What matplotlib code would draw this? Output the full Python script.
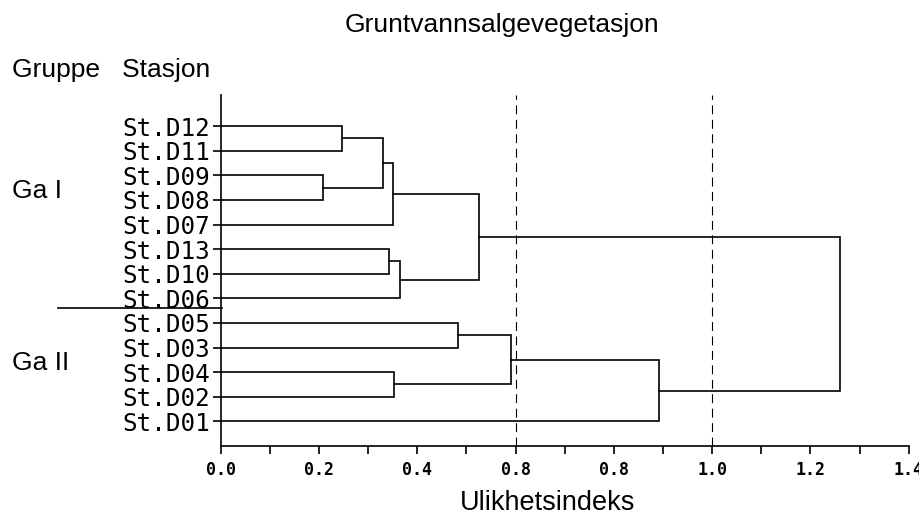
"""Dendrogram: Gruntvannsalgevegetasjon, stations grouped into Ga I / Ga II."""

import matplotlib
matplotlib.use("Agg")
import matplotlib.pyplot as plt
import numpy as np


# leaves, top to bottom
LEAVES = ["St.D12", "St.D11", "St.D09", "St.D08", "St.D07", "St.D13",
          "St.D10", "St.D06", "St.D05", "St.D03", "St.D04", "St.D02",
          "St.D01"]

# merges: (left node, right node, dissimilarity); nodes are leaf names or
# indices into this list (as "m<i>")
MERGES = [
    ("St.D12", "St.D11", 0.247),   # m0
    ("St.D09", "St.D08", 0.209),   # m1
    ("m0", "m1", 0.330),           # m2
    ("m2", "St.D07", 0.350),       # m3
    ("St.D13", "St.D10", 0.343),   # m4
    ("m4", "St.D06", 0.365),       # m5
    ("m3", "m5", 0.526),           # m6
    ("St.D05", "St.D03", 0.482),   # m7
    ("St.D04", "St.D02", 0.353),   # m8
    ("m7", "m8", 0.591),           # m9
    ("m9", "St.D01", 0.892),       # m10
    ("m6", "m10", 1.260),          # m11
]

CUT_LEVELS = [0.6, 1.0]
XTICKS = [0.0, 0.2, 0.4, 0.6, 0.8, 1.0, 1.2, 1.4]
XTICK_LABELS = ["0.0", "0.2", "0.4", "0.8", "0.8", "1.0", "1.2", "1.4"]

MONO = "DejaVu Sans Mono"
SANS = "Liberation Sans"


def main():
    fig = plt.figure(figsize=(9.19, 5.21), dpi=100)
    ax = fig.add_axes([0.2402, 0.1440, 0.7486, 0.674])

    pos = {name: (0.0, i) for i, name in enumerate(LEAVES)}
    for i, (a, b, h) in enumerate(MERGES):
        xa, ya = pos[a]
        xb, yb = pos[b]
        ax.plot([xa, h, h, xb], [ya, ya, yb, yb], color="black", lw=1.2,
                solid_joinstyle="miter")
        pos[f"m{i}"] = (h, (ya + yb) / 2)

    for c in CUT_LEVELS:
        ax.axvline(c, color="black", lw=0.8, ls=(0, (8, 5)))

    ax.set_xlim(0, 1.4)
    ax.set_ylim(13.0, -1.27)
    ax.set_xticks(XTICKS)
    ax.set_xticklabels(XTICK_LABELS, fontfamily=MONO, fontsize=12,
                       fontweight="bold")
    ax.set_xticks(np.arange(0.1, 1.4, 0.2), minor=True)
    ax.set_yticks(range(len(LEAVES)))
    ax.set_yticklabels(LEAVES, fontfamily=MONO, fontsize=17.5)
    ax.tick_params(axis="x", which="both", direction="out", length=6,
                   width=1.2, pad=5)
    ax.tick_params(axis="y", direction="out", length=6, width=1.2, pad=2)
    for side in ("top", "right"):
        ax.spines[side].set_visible(False)
    for side in ("left", "bottom"):
        ax.spines[side].set_linewidth(1.2)

    # group separator line
    fig.add_artist(plt.Line2D([58 / 919, 222 / 919],
                              [1 - 308 / 521, 1 - 308 / 521],
                              color="black", lw=1.2))

    fig.text(502 / 919, 1 - 25 / 521, "Gruntvannsalgevegetasjon",
             fontfamily=SANS, fontsize=19, ha="center", va="center")
    fig.text(12 / 919, 1 - 70 / 521, "Gruppe   Stasjon",
             fontfamily=SANS, fontsize=19, ha="left", va="center")
    fig.text(12 / 919, 1 - 191 / 521, "Ga I",
             fontfamily=SANS, fontsize=19, ha="left", va="center")
    fig.text(12 / 919, 1 - 363 / 521, "Ga II",
             fontfamily=SANS, fontsize=19, ha="left", va="center")
    fig.text(548 / 919, 1 - 503 / 521, "Ulikhetsindeks",
             fontfamily=SANS, fontsize=19.5, ha="center", va="center")

    fig.savefig("out.png", dpi=100)
    plt.close(fig)


if __name__ == "__main__":
    main()
